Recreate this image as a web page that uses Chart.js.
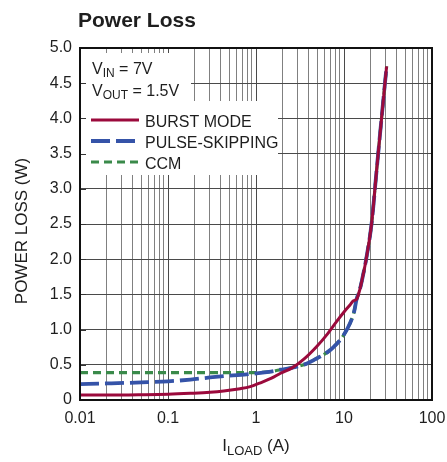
<!DOCTYPE html>
<html><head><meta charset="utf-8">
<script src="https://cdn.jsdelivr.net/npm/chart.js@4.4.1/dist/chart.umd.min.js"></script>
<style>html,body{margin:0;padding:0;background:#fff;overflow:hidden}</style>
</head><body>
<canvas id="c" width="447" height="462"></canvas>
<script>
// ---- data ----
const chartTitle = 'Power Loss';
const yAxisTitle = 'POWER LOSS (W)';
const xAxisTitleMain = 'I';
const xAxisTitleSub = 'LOAD';
const xAxisTitleTail = ' (A)';
const noteLines = [['V', 'IN', ' = 7V'], ['V', 'OUT', ' = 1.5V']];
const seriesNames = ['BURST MODE', 'PULSE-SKIPPING', 'CCM'];
const xGridValues = [0.01,0.02,0.03,0.04,0.05,0.06,0.07,0.08,0.09,
  0.1,0.2,0.3,0.4,0.5,0.6,0.7,0.8,0.9,
  1,2,3,4,5,6,7,8,9,
  10,20,30,40,50,60,70,80,90,100];
const xTickValues = [0.01, 0.1, 1, 10, 100];
const xTickLabels = ['0.01', '0.1', '1', '10', '100'];
const yTickValues = [0,0.5,1,1.5,2,2.5,3,3.5,4,4.5,5];
const yTickLabels = ['0','0.5','1.0','1.5','2.0','2.5','3.0','3.5','4.0','4.5','5.0'];

const burstI = [0.01,0.02,0.05,0.1,0.18,0.3,0.43,0.66,0.86,1.1,1.5,1.9,2.6,3.5,4.9,6.5,8.3,10,11.7,12.8,13.9,15.2,16,17.8,20.6,23.5,26.8,30.5];
const burstP = [0.07,0.07,0.075,0.082,0.095,0.11,0.128,0.16,0.19,0.24,0.31,0.38,0.46,0.58,0.76,0.94,1.12,1.25,1.35,1.41,1.43,1.58,1.70,1.99,2.51,3.27,4.02,4.74];

const pulseI = [0.01,0.02,0.05,0.1,0.18,0.3,0.5,0.86,1.4,1.9,2.6,3.8,4.9,6.5,8.3,10,11.7,13,13.9,15.2,16,17.8,20.6,23.5,26.8,30.5];
const pulseP = [0.225,0.235,0.25,0.265,0.29,0.32,0.345,0.37,0.40,0.43,0.46,0.52,0.59,0.68,0.80,0.93,1.09,1.25,1.43,1.58,1.70,1.99,2.51,3.27,4.02,4.74];

const ccmI = [0.01,0.1,0.5,1.0,1.4,1.9,2.6,3.8,4.9,6.5,8.3,10,11.7,13,13.9,15.2,16,17.8,20.6,23.5,26.8,30.5];
const ccmP = [0.39,0.39,0.39,0.39,0.40,0.43,0.46,0.52,0.59,0.68,0.80,0.93,1.09,1.25,1.43,1.58,1.70,1.99,2.51,3.27,4.02,4.74];

// ---- styles ----
const colors = ['#9b0a3c', '#3553a8', '#3a8a4a'];
const widths = [3, 3.8, 3.2];
const dashes = [[], [19, 6], [8, 5]];

function hasFont(name){
  const c = document.createElement('canvas').getContext('2d');
  const t = 'BURST MODE abcdefg 0123456789';
  c.font = '40px monospace'; const a = c.measureText(t).width;
  c.font = '40px "' + name + '", monospace'; const b = c.measureText(t).width;
  return Math.abs(a - b) > 0.5;
}
const NARROW = hasFont('Liberation Sans Narrow');
const FAM = NARROW ? '"Liberation Sans Narrow", "Liberation Sans", Arial, sans-serif' : '"Liberation Sans", Arial, sans-serif';
const FS = NARROW ? { tick: 19, title: 25, text: 19, sub: 14, axis: 20 } : { tick: 16, title: 21, text: 16, sub: 12, axis: 17 };
const TXT = '#1e1e1e';

function pts(xs, ys){ return xs.map((x, i) => ({ x: x, y: ys[i] })); }
const seriesData = [pts(burstI, burstP), pts(pulseI, pulseP), pts(ccmI, ccmP)];

const decor = {
  id: 'decor',
  beforeDatasetsDraw(chart){
    const ctx = chart.ctx, a = chart.chartArea;
    ctx.save();
    ctx.fillStyle = '#fff';
    ctx.fillRect(a.left + 1, a.top + 5, 190 - a.left, 101 - (a.top + 5));
    ctx.fillRect(a.left + 1, 101, 277 - a.left, 175 - 101);
    ctx.strokeStyle = '#333'; ctx.lineWidth = 1;
    const ys = chart.scales.y;
    yTickValues.forEach(v => {
      const y = Math.round(ys.getPixelForValue(v)) + 0.5;
      ctx.beginPath(); ctx.moveTo(a.left, y); ctx.lineTo(a.left + 6, y); ctx.stroke();
    });
    ctx.restore();
  },
  afterDatasetsDraw(chart){
    const ctx = chart.ctx, a = chart.chartArea;
    ctx.save();
    ctx.strokeStyle = '#111'; ctx.lineWidth = 2;
    ctx.strokeRect(a.left, a.top, a.right - a.left, a.bottom - a.top);
    ctx.fillStyle = TXT;
    ctx.textBaseline = 'alphabetic';
    ctx.textAlign = 'left';
    ctx.font = 'bold ' + FS.title + 'px ' + FAM;
    ctx.fillText(chartTitle, 78, 27);
    const noteBase = [73.5, 95.5];
    noteLines.forEach((ln, i) => {
      let x = 92;
      ctx.font = FS.text + 'px ' + FAM;
      ctx.fillText(ln[0], x, noteBase[i]); x += ctx.measureText(ln[0]).width;
      ctx.font = FS.sub + 'px ' + FAM;
      ctx.fillText(ln[1], x, noteBase[i] + 3.5); x += ctx.measureText(ln[1]).width;
      ctx.font = FS.text + 'px ' + FAM;
      ctx.fillText(ln[2], x, noteBase[i]);
    });
    const legBase = [126.5, 147.5, 168.5];
    chart.data.datasets.forEach((ds, i) => {
      const y = legBase[i] - 6.5;
      ctx.save();
      ctx.strokeStyle = ds.borderColor; ctx.lineWidth = ds.borderWidth;
      ctx.setLineDash(ds.borderDash || []);
      ctx.beginPath(); ctx.moveTo(91, y); ctx.lineTo(139, y); ctx.stroke();
      ctx.restore();
      ctx.font = FS.text + 'px ' + FAM;
      ctx.fillText(ds.label, 145, legBase[i]);
    });
    ctx.save();
    ctx.font = FS.axis + 'px ' + FAM;
    ctx.translate(27, 231);
    ctx.rotate(-Math.PI / 2);
    ctx.textAlign = 'center';
    ctx.fillText(yAxisTitle, 0, 0);
    ctx.restore();
    ctx.font = FS.axis + 'px ' + FAM;
    const w1 = ctx.measureText(xAxisTitleMain).width;
    const w3 = ctx.measureText(xAxisTitleTail).width;
    ctx.font = (FS.sub + 1) + 'px ' + FAM;
    const w2 = ctx.measureText(xAxisTitleSub).width;
    let x = (a.left + a.right) / 2 - (w1 + w2 + w3) / 2;
    const base = 451;
    ctx.font = FS.axis + 'px ' + FAM; ctx.fillText(xAxisTitleMain, x, base); x += w1;
    ctx.font = (FS.sub + 1) + 'px ' + FAM; ctx.fillText(xAxisTitleSub, x, base + 4); x += w2;
    ctx.font = FS.axis + 'px ' + FAM; ctx.fillText(xAxisTitleTail, x, base);
    ctx.restore();
  }
};

new Chart(document.getElementById('c'), {
  type: 'line',
  data: {
    datasets: seriesNames.map((n, i) => ({
      label: n,
      data: seriesData[i],
      borderColor: colors[i],
      backgroundColor: colors[i],
      borderWidth: widths[i],
      borderDash: dashes[i],
      pointRadius: 0,
      fill: false,
      cubicInterpolationMode: 'monotone',
      borderCapStyle: 'butt',
      borderJoinStyle: 'round'
    }))
  },
  options: {
    responsive: false,
    animation: false,
    devicePixelRatio: 1,
    layout: { padding: { top: 48, right: 15, bottom: 0, left: 0 } },
    plugins: { legend: { display: false }, tooltip: { enabled: false }, title: { display: false } },
    scales: {
      x: {
        type: 'logarithmic',
        min: 0.01, max: 100,
        afterBuildTicks: s => { s.ticks = xGridValues.map(v => ({ value: v })); },
        afterFit: s => { s.height = 62; s.paddingLeft = 0; s.paddingRight = 0; },
        border: { display: false },
        grid: {
          drawTicks: false,
          color: c => (xTickValues.indexOf(c.tick && c.tick.value) >= 0 ? '#4a4a4a' : '#808080'),
          lineWidth: 1
        },
        ticks: {
          autoSkip: false, maxRotation: 0, minRotation: 0, padding: 9,
          color: TXT, font: { family: FAM, size: FS.tick },
          callback: v => { const k = xTickValues.indexOf(v); return k >= 0 ? xTickLabels[k] : ''; }
        }
      },
      y: {
        min: 0, max: 5,
        afterBuildTicks: s => { s.ticks = yTickValues.map(v => ({ value: v })); },
        afterFit: s => { s.width = 80; s.paddingTop = 0; s.paddingBottom = 0; },
        border: { display: false },
        grid: { drawTicks: false, color: '#4a4a4a', lineWidth: 1 },
        ticks: {
          padding: 8, color: TXT, font: { family: FAM, size: FS.tick },
          callback: v => { const k = yTickValues.indexOf(v); return k >= 0 ? yTickLabels[k] : ''; }
        }
      }
    }
  },
  plugins: [decor]
});
</script>
</body></html>
